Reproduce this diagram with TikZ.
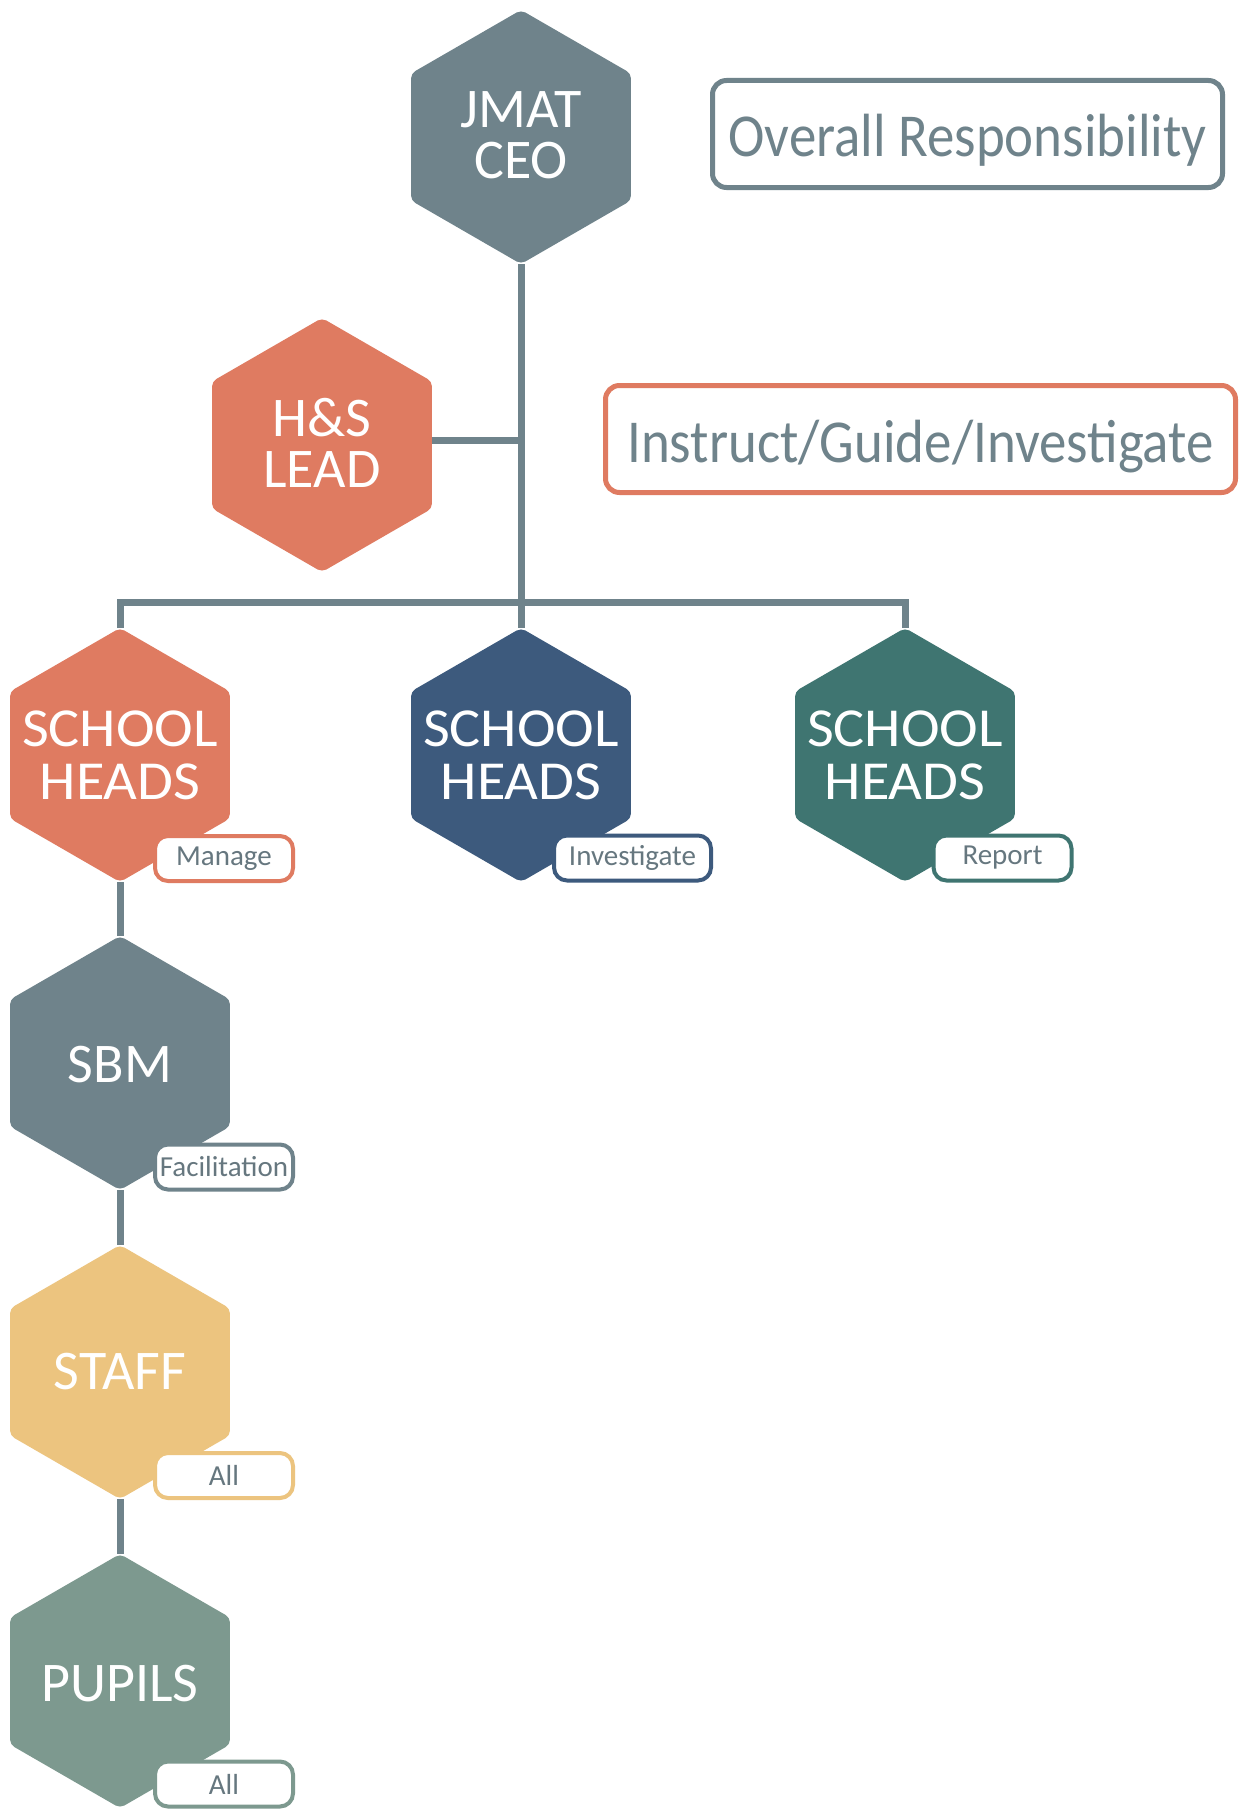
\documentclass[tikz,border=0pt]{standalone}
\usepackage{fontspec}
\setmainfont{Carlito}
\newfontfamily\boxfont[FakeStretch=0.9]{Carlito}
\newfontfamily\headfont[FakeStretch=1.06]{Carlito}
\usetikzlibrary{shapes.geometric,backgrounds}
\definecolor{slate}{HTML}{6F838B}
\definecolor{coral}{HTML}{DF7B61}
\definecolor{navy}{HTML}{3D5A7D}
\definecolor{teal}{HTML}{3F7571}
\definecolor{mustard}{HTML}{ECC47F}
\definecolor{sage}{HTML}{7D998F}
\definecolor{txtgray}{HTML}{66777F}
\begin{document}
\begin{tikzpicture}[x=1pt,y=-1pt,
  hex/.style={regular polygon, regular polygon sides=6, shape border rotate=30,
    minimum size=254pt, inner sep=0pt, outer sep=0pt, rounded corners=5pt, fill=#1, draw=none},
  hextext/.style={text=white, align=center, inner sep=0pt, font=\fontsize{56}{51}\selectfont},
  headtext/.style={hextext, font=\headfont\fontsize{55}{53}\selectfont},
  tag/.style={draw=#1, line width=4pt, fill=white, rounded corners=13pt,
    minimum width=138pt, minimum height=45pt, inner sep=0pt, text=txtgray,
    font=\fontsize{29}{32}\selectfont},
  bigbox/.style={draw=#1, line width=5pt, fill=white, rounded corners=14pt,
    minimum height=107pt, inner sep=0pt, text=slate, text height=46pt, text depth=0pt,
    font=\boxfont\fontsize{61}{64}\selectfont},
  conn/.style={draw=slate, line width=7pt}
]
\useasboundingbox (0,0) rectangle (1245,1809);

% hexagons
\node[hex=slate, label={[hextext,yshift=2pt]center:JMAT\\CEO}] (ceo) at (521,137) {};
\node[hex=coral, label={[hextext,yshift=2pt]center:H\&S\\LEAD}] (lead) at (322,445) {};
\node[hex=coral, label={[headtext]center:SCHOOL\\HEADS}] (heads1) at (120,755) {};
\node[hex=navy,  label={[headtext]center:SCHOOL\\HEADS}] (heads2) at (521,755) {};
\node[hex=teal,  label={[headtext]center:SCHOOL\\HEADS}] (heads3) at (905,755) {};
\node[hex=slate, label={[hextext,yshift=-2pt]center:SBM}] (sbm) at (120,1063) {};
\node[hex=mustard, label={[hextext]center:STAFF}] (staff) at (120,1372) {};
\node[hex=sage, label={[hextext,yshift=-3pt]center:PUPILS}] (pupils) at (120,1681) {};

% tags
\node[tag=coral] (tmanage) at (224,858.5) {Manage};
\node[tag=navy, minimum width=157pt] (tinvest) at (632.5,858) {Investigate};
\node[tag=teal] (treport) at (1002.5,858) {Report};
\node[tag=slate] (tfacil) at (224,1167) {Facilitation};
\node[tag=mustard] (tstaff) at (224,1475.5) {All};
\node[tag=sage] (tpupils) at (224,1784) {All};

% big boxes
\node[bigbox=slate, minimum width=510pt] (overall) at (967.5,134) {Overall Responsibility};
\node[bigbox=coral, minimum width=630pt] (instruct) at (920.5,439) {Instruct/Guide/Investigate};

% connectors
\begin{pgfonlayer}{background}
\fill[white] (0,0) rectangle (1245,1809);
\draw[conn] (ceo.south) -- (heads2.north);
\draw[conn] ([yshift=5pt]lead.east) -- ([yshift=5pt]lead.east -| ceo.south);
\draw[conn] (heads1.north) -- ++(0,-26) coordinate (busL) -| (heads3.north);
\draw[conn] (heads1.south) -- (sbm.north);
\draw[conn] (sbm.south) -- (staff.north);
\draw[conn] (staff.south) -- (pupils.north);
\end{pgfonlayer}
\end{tikzpicture}
\end{document}
